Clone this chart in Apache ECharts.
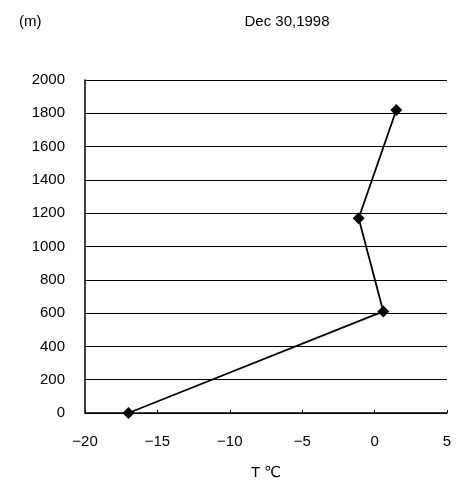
<!DOCTYPE html>
<html>
<head>
<meta charset="utf-8">
<script src="https://cdn.jsdelivr.net/npm/echarts@6/dist/echarts.min.js"></script>
<style>
  html, body { margin: 0; padding: 0; background: #fff; }
  #chart { width: 459px; height: 487px; }
</style>
</head>
<body>
<div id="chart"></div>
<script>
// Temperature profile: altitude (m) against air temperature (°C)
const temperatures = [-17.0, 0.6, -1.1, 1.5];
const altitudes = [0, 610, 1170, 1820];
const xTicks = [-20, -15, -10, -5, 0, 5];
const yTicks = [0, 200, 400, 600, 800, 1000, 1200, 1400, 1600, 1800, 2000];

const FONT = '"Liberation Sans", "DejaVu Sans", sans-serif';

const chart = echarts.init(document.getElementById('chart'), null, { renderer: 'canvas' });

chart.setOption({
  backgroundColor: '#ffffff',
  animation: false,
  title: [
    { text: 'Dec 30,1998', left: 282, top: 9, textAlign: 'center',
      textStyle: { fontFamily: FONT, fontSize: 15, fontWeight: 'normal', color: '#000' } },
    { text: '(m)', left: 14, top: 9,
      textStyle: { fontFamily: FONT, fontSize: 15, fontWeight: 'normal', color: '#000' } }
  ],
  grid: { left: 85, right: 12, top: 80, bottom: 74 },
  xAxis: {
    type: 'value',
    min: xTicks[0],
    max: xTicks[xTicks.length - 1],
    interval: 5,
    name: 'T ℃',
    nameLocation: 'middle',
    nameGap: 52,
    nameTextStyle: { fontFamily: FONT, fontSize: 15, color: '#000' },
    axisLine: { show: true, onZero: false, lineStyle: { color: '#000', width: 1.5 } },
    axisTick: { show: true, inside: true, length: 3, lineStyle: { color: '#000' } },
    splitLine: { show: false },
    axisLabel: {
      fontFamily: FONT, fontSize: 15, color: '#000', margin: 21,
      formatter: v => (v < 0 ? '\u2212' + Math.abs(v) : String(v))
    }
  },
  yAxis: {
    type: 'value',
    min: yTicks[0],
    max: yTicks[yTicks.length - 1],
    interval: 200,
    axisLine: { show: true, onZero: false, lineStyle: { color: '#000', width: 1.5 } },
    axisTick: { show: false },
    splitLine: { show: true, lineStyle: { color: '#000', width: 1.2 } },
    axisLabel: { fontFamily: FONT, fontSize: 15, color: '#000', margin: 20,
      formatter: v => String(v) }
  },
  series: [{
    type: 'line',
    data: temperatures.map((t, i) => [t, altitudes[i]]),
    symbol: 'diamond',
    symbolSize: 12,
    itemStyle: { color: '#000' },
    lineStyle: { color: '#000', width: 1.8 },
    z: 5
  }]
});
</script>
</body>
</html>
